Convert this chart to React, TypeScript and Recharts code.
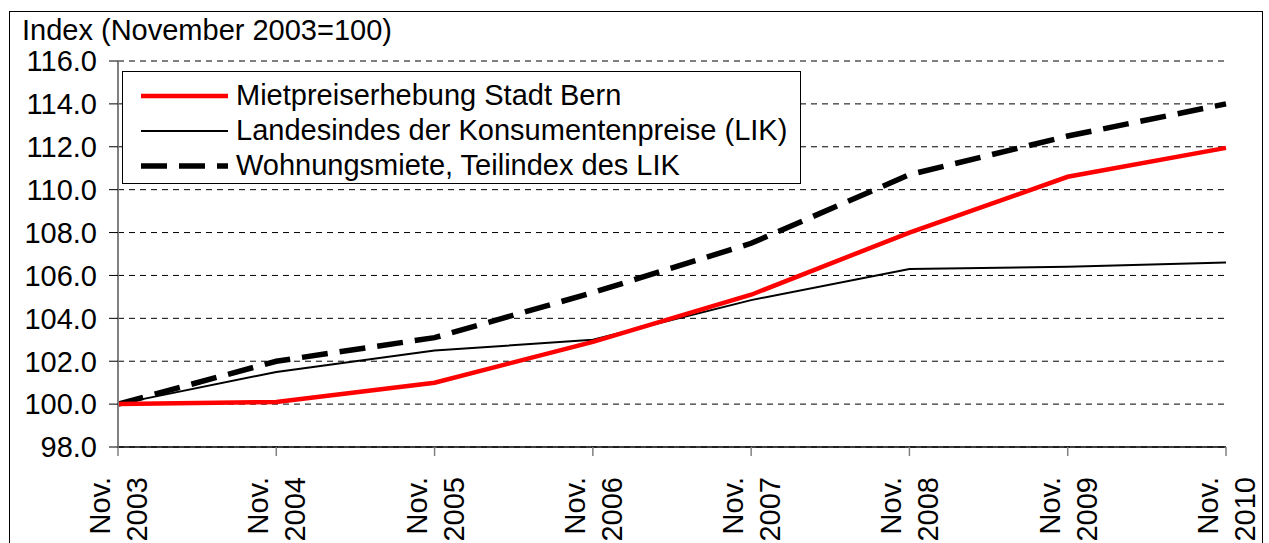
import { CartesianGrid, Line, LineChart, XAxis, YAxis } from "recharts";

const years = ["2003", "2004", "2005", "2006", "2007", "2008", "2009", "2010"];
const mietpreise = [100.0, 100.1, 101.0, 102.9, 105.1, 108.0, 110.6, 111.95];
const lik = [100.0, 101.5, 102.5, 103.0, 104.85, 106.3, 106.4, 106.6];
const wohnungsmiete = [100.0, 102.0, 103.1, 105.2, 107.5, 110.7, 112.5, 114.0];
const yTicks = [98, 100, 102, 104, 106, 108, 110, 112, 114, 116];

const FONT = "'Liberation Sans', Arial, sans-serif";
const FS = 29;

const data = years.map((year, i) => ({
  year,
  bern: mietpreise[i],
  lik: lik[i],
  miete: wohnungsmiete[i],
}));

const legendItems = [
  { label: "Mietpreiserhebung Stadt Bern", color: "#ff0000", width: 4.5, dash: undefined },
  { label: "Landesindes der Konsumentenpreise (LIK)", color: "#000", width: 2, dash: undefined },
  { label: "Wohnungsmiete, Teilindex des LIK", color: "#000", width: 5.5, dash: "26 12" },
];

// legend is drawn as an overlay so it doesn't push the plot area down
function LegendBox() {
  return (
    <div
      style={{
        position: "absolute",
        left: 122,
        top: 71,
        width: 679,
        height: 113,
        border: "1px solid #000",
        background: "#fff",
        boxSizing: "border-box",
        paddingTop: 6,
        fontFamily: FONT,
        fontSize: FS,
      }}
    >
      {legendItems.map((item) => (
        <div key={item.label} style={{ display: "flex", alignItems: "center", height: 35 }}>
          <svg width={113} height={20} style={{ flex: "none" }}>
            <line
              x1={18}
              x2={105}
              y1={10}
              y2={10}
              stroke={item.color}
              strokeWidth={item.width}
              strokeDasharray={item.dash}
            />
          </svg>
          <span style={{ whiteSpace: "nowrap", lineHeight: "35px" }}>{item.label}</span>
        </div>
      ))}
    </div>
  );
}

function XTick(props: any) {
  const { x, payload } = props;
  return (
    <text
      transform={`translate(${x},477) rotate(-90)`}
      textAnchor="end"
      fontFamily={FONT}
      fontSize={FS}
      fill="#000"
    >
      <tspan x={0} y={-8}>
        Nov.
      </tspan>
      <tspan x={0} y={29}>
        {payload.value}
      </tspan>
    </text>
  );
}

export default function App() {
  return (
    <div
      style={{
        position: "absolute",
        left: 0,
        top: 0,
        width: 1269,
        height: 543,
        overflow: "hidden",
        background: "#fff",
      }}
    >
      <div
        style={{
          position: "absolute",
          left: 9,
          top: 11,
          width: 1254,
          height: 600,
          border: "1px solid #000",
          boxSizing: "border-box",
        }}
      />
      <div
        style={{
          position: "absolute",
          left: 22,
          top: 13,
          fontFamily: FONT,
          fontSize: FS,
          lineHeight: "34px",
          color: "#000",
          whiteSpace: "nowrap",
        }}
      >
        Index (November 2003=100)
      </div>
      <div style={{ position: "absolute", left: 0, top: 0 }}>
        <LineChart
          width={1269}
          height={543}
          data={data}
          margin={{ top: 61, right: 43, left: 18, bottom: 0 }}
        >
          <CartesianGrid
            vertical={false}
            stroke="#000"
            strokeDasharray="6 5"
            strokeWidth={1}
          />
          <XAxis
            dataKey="year"
            height={96}
            interval={0}
            axisLine={{ stroke: "#000", strokeWidth: 1.5 }}
            tickLine={{ stroke: "#808080", strokeWidth: 1.5 }}
            tickSize={9}
            tick={<XTick />}
          />
          <YAxis
            width={100}
            domain={[98, 116]}
            ticks={yTicks}
            interval={0}
            allowDataOverflow
            tickFormatter={(v: number) => v.toFixed(1)}
            axisLine={{ stroke: "#808080", strokeWidth: 2 }}
            tickLine={{ stroke: "#000", strokeWidth: 1 }}
            tickSize={9}
            tickMargin={12}
            tick={{ fill: "#000", fontSize: FS, fontFamily: FONT }}
          />
          <Line
            dataKey="lik"
            stroke="#000"
            strokeWidth={2}
            dot={false}
            type="linear"
            isAnimationActive={false}
          />
          <Line
            dataKey="miete"
            stroke="#000"
            strokeWidth={5.5}
            strokeDasharray="26 12"
            dot={false}
            type="linear"
            isAnimationActive={false}
          />
          <Line
            dataKey="bern"
            stroke="#ff0000"
            strokeWidth={4.5}
            dot={false}
            type="linear"
            isAnimationActive={false}
          />
        </LineChart>
      </div>
      <LegendBox />
    </div>
  );
}
